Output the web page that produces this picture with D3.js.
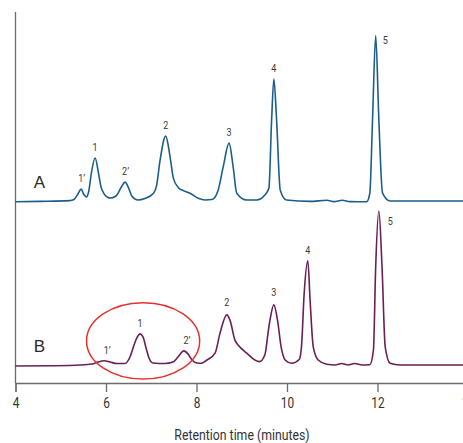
<!DOCTYPE html>
<html>
<head>
<meta charset="utf-8">
<script src="https://cdn.jsdelivr.net/npm/d3@7"></script>
<style>
  html, body { margin: 0; padding: 0; background: #fff; }
  svg { display: block; }
</style>
</head>
<body>
<svg id="chart" width="463" height="443"></svg>
<script>
// ---- data (time in minutes, signal height above each trace's baseline) ----
const timeTicks = [4, 6, 8, 10, 12, 14];
const traceNames = ["A", "B"];

const timesA = [4.00, 4.54, 5.20, 5.29, 5.38, 5.45, 5.51, 5.57, 5.62, 5.68, 5.76, 5.83, 5.89, 5.96, 6.09, 6.22, 6.34, 6.42, 6.50, 6.57, 6.71, 6.86, 7.05, 7.12, 7.19, 7.32, 7.41, 7.49, 7.60, 7.71, 7.86, 8.04, 8.19, 8.34, 8.48, 8.59, 8.72, 8.81, 8.89, 9.11, 9.33, 9.51, 9.60, 9.66, 9.71, 9.77, 9.85, 9.99, 10.51, 10.88, 11.04, 11.22, 11.39, 11.76, 11.83, 11.89, 11.96, 12.03, 12.11, 12.28, 14.00];
const signalA = [-0.2, -0.1, 0.1, 0.4, 1.9, 3.2, 1.75, 1.1, 2.7, 7.8, 11.6, 7.8, 3.8, 1.9, 0.8, 1.35, 3.8, 5.1, 3.5, 1.35, 0.27, 0.67, 2.1, 4.3, 10.6, 17.5, 12.4, 6.1, 3.6, 2.8, 2.1, 0.73, 0.27, 0.4, 3.0, 9.2, 15.6, 9.2, 2.1, 0.27, 0.27, 1.6, 3.5, 21.8, 32.9, 21.8, 3.0, 0.27, -0.1, 0.2, -0.15, 0.2, -0.15, -0.2, 2.1, 21.8, 44.6, 21.8, 2.2, 0.0, 0.0];

const timesB = [4.00, 4.76, 5.43, 5.69, 5.82, 5.96, 6.09, 6.24, 6.42, 6.53, 6.62, 6.69, 6.75, 6.82, 6.88, 6.95, 7.04, 7.30, 7.48, 7.59, 7.72, 7.81, 7.90, 8.01, 8.10, 8.23, 8.41, 8.52, 8.67, 8.74, 8.85, 8.92, 9.11, 9.29, 9.39, 9.51, 9.60, 9.71, 9.79, 9.87, 9.96, 10.10, 10.27, 10.32, 10.38, 10.46, 10.51, 10.58, 10.69, 10.88, 11.06, 11.21, 11.35, 11.50, 11.66, 11.83, 11.91, 11.96, 12.03, 12.10, 12.17, 12.28, 12.50, 14.00];
const signalB = [-0.27, -0.2, 0.0, 0.27, 0.8, 1.16, 0.8, 0.4, 0.4, 2.15, 5.4, 7.5, 8.4, 7.5, 4.85, 1.9, 0.54, 0.4, 0.8, 2.15, 3.8, 3.0, 1.35, 0.54, 0.46, 1.35, 3.2, 8.6, 13.5, 12.1, 6.7, 5.4, 3.2, 1.35, 0.9, 2.7, 10.3, 16.2, 12.1, 4.9, 1.35, 0.46, 1.5, 4.9, 19.4, 28.1, 17.5, 4.9, 1.35, 0.19, 0.0, 0.4, 0.0, 0.4, 0.0, 0.08, 4.0, 26.5, 41.5, 26.5, 4.9, 0.46, 0.0, 0.0];

const peakLabels = ["1’", "1", "2’", "2", "3", "4", "5"];
const peakTimesA = [5.45, 5.76, 6.42, 7.32, 8.72, 9.71, 11.96];
const peakHeightsA = [3.2, 11.6, 5.1, 17.5, 15.6, 32.9, 44.6];
const peakTimesB = [5.96, 6.75, 7.72, 8.67, 9.71, 10.46, 12.03];
const peakHeightsB = [1.16, 8.4, 3.8, 13.5, 16.2, 28.1, 41.5];

const baselineOffsets = [49.05, 4.85];   // vertical offset of traces A and B
const circledRegion = { time: 6.82, height: 6.5, halfWidth: 1.25, halfHeight: 10.3 }; // trace B

// ---- drawing ----
const svg = d3.select("#chart");
const x = d3.scaleLinear().domain([4, 14]).range([15.5, 468]);
const y = d3.scaleLinear().domain([0, 100]).range([383, 12]);

const colors = ["#1b5e8b", "#6a1f55"];
const labelColor = "#3a3a3a";
const condFont = "Roboto, 'Liberation Sans', sans-serif";
const squeeze = 0.82;   // emulate a condensed face

function condText(px, py, str, size, color) {
  svg.append("g")
    .attr("transform", `translate(${px},${py}) scale(${squeeze},1)`)
    .append("text")
    .attr("text-anchor", "middle")
    .attr("fill", color)
    .attr("font-family", condFont)
    .attr("font-size", size)
    .text(str);
}

// y axis line
svg.append("line")
  .attr("x1", x(4)).attr("x2", x(4))
  .attr("y1", 12).attr("y2", y(0))
  .attr("stroke", "#6b6b6b").attr("stroke-width", 1.3);

// x axis
const xAxis = d3.axisBottom(x).tickValues(timeTicks).tickSize(9).tickPadding(6).tickFormat(d3.format("d"));
const gx = svg.append("g").attr("transform", `translate(0,${y(0)})`).call(xAxis);
gx.select(".domain").attr("stroke", "#6b6b6b").attr("stroke-width", 1.3);
gx.selectAll(".tick line").attr("stroke", "#6b6b6b").attr("stroke-width", 1.3);
gx.selectAll(".tick text")
  .attr("fill", "#333").attr("font-family", condFont).attr("font-size", 14.5)
  .attr("transform", `scale(${squeeze},1)`);

condText(242, 440, "Retention time (minutes)", 15, "#333");

const series = [
  { times: timesA, signal: signalA, pt: peakTimesA, ph: peakHeightsA },
  { times: timesB, signal: signalB, pt: peakTimesB, ph: peakHeightsB }
];

const line = d3.line().curve(d3.curveMonotoneX);

series.forEach((s, i) => {
  const off = baselineOffsets[i];
  const pts = s.times.map((t, k) => [x(t), y(s.signal[k] + off)]);
  svg.append("path")
    .attr("d", line(pts))
    .attr("fill", "none")
    .attr("stroke", colors[i])
    .attr("stroke-width", 1.6)
    .attr("stroke-linejoin", "round");

  // trace letter
  svg.append("text")
    .attr("x", 39.5).attr("y", y(off) - 13)
    .attr("text-anchor", "middle")
    .attr("fill", "#2a2a2a")
    .attr("font-family", "'Liberation Sans', Arial, sans-serif")
    .attr("font-size", 17)
    .text(traceNames[i]);

  // peak labels
  peakLabels.forEach((lab, k) => {
    const px = x(s.pt[k]);
    const py = y(s.ph[k] + off);
    let dx = 0, dy = -11;
    if (lab.includes("’")) { dx = i === 1 ? 3 : 0.5; }
    if (lab === "5") { dx = i === 0 ? 9.5 : 11.5; dy = i === 0 ? 5 : 10; }
    if (i === 1 && (lab === "2" || lab === "3")) dy = -12.5;
    condText(px + dx, py + dy + 3.8, lab, 11, labelColor);
  });
});

// red ellipse around minor peaks of trace B
const c = circledRegion;
svg.append("ellipse")
  .attr("cx", x(c.time))
  .attr("cy", y(c.height + baselineOffsets[1]))
  .attr("rx", x(c.time + c.halfWidth) - x(c.time))
  .attr("ry", y(0) - y(c.halfHeight))
  .attr("fill", "none")
  .attr("stroke", "#e5322b")
  .attr("stroke-width", 1.5);
</script>
</body>
</html>
